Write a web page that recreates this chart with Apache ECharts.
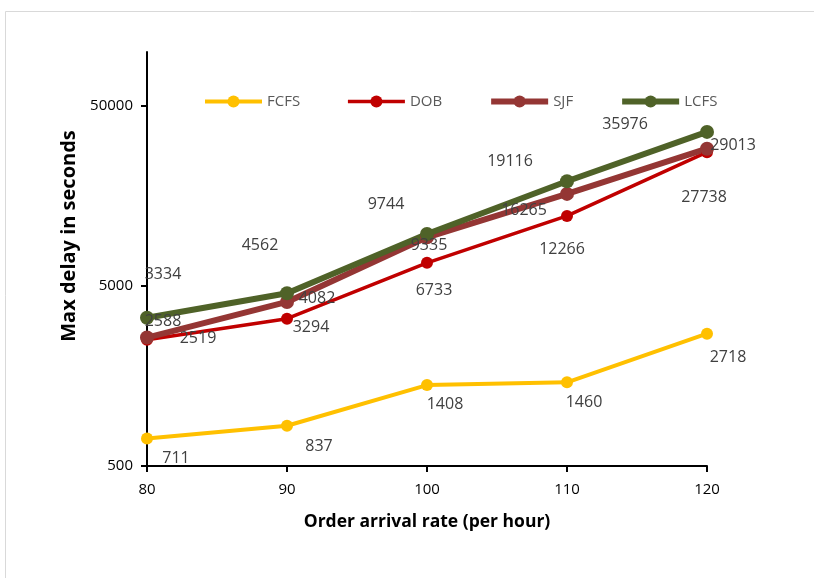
<!DOCTYPE html>
<html>
<head>
<meta charset="utf-8">
<script src="https://cdn.jsdelivr.net/npm/echarts@6/dist/echarts.min.js"></script>
<style>html,body{margin:0;padding:0;background:#fff;}#c{width:814px;height:578px;}</style>
</head>
<body>
<div id="c"></div>
<script>
const rates = [80, 90, 100, 110, 120];
const fcfs = [711, 837, 1408, 1460, 2718];
const dob = [2519, 3294, 6733, 12266, 27738];
const sjf = [2588, 4082, 9335, 16265, 29013];
const lcfs = [3334, 4562, 9744, 19116, 35976];
const seriesNames = ['FCFS', 'DOB', 'SJF', 'LCFS'];
const yTicks = [500, 5000, 50000];

// label placement (style), kept apart from data
const labelOffsets = {
  FCFS: [[29,20],[32,21],[18,19],[17,20],[21,24]],
  DOB:  [[51,-1],[24,9],[7,28],[-5,33],[-3,45]],
  SJF:  [[16,-16],[30,-3],[2,8],[-43,17],[26,-3]],
  LCFS: [[16,-43],[-27,-48],[-41,-30],[-57,-20],[-82,-7]]
};
const styles = {
  FCFS: {color:'#FFC000', width:4, size:12},
  DOB:  {color:'#C00000', width:3.5, size:12},
  SJF:  {color:'#943634', width:6, size:14},
  LCFS: {color:'#4F6228', width:6, size:14}
};
const values = {FCFS: fcfs, DOB: dob, SJF: sjf, LCFS: lcfs};
const FONT = 'Open Sans';

function mkSeries(name) {
  const st = styles[name];
  return {
    name: name,
    type: 'line',
    data: rates.map((r, i) => ({
      value: [r, values[name][i]],
      label: {offset: labelOffsets[name][i]}
    })),
    symbol: 'circle',
    symbolSize: st.size,
    lineStyle: {color: st.color, width: st.width},
    itemStyle: {color: st.color},
    label: {
      show: true, position: 'inside',
      formatter: p => String(p.value[1]),
      color: '#404040', fontSize: 16, fontFamily: FONT
    },
    emphasis: {disabled: true},
    animation: false
  };
}

const chart = echarts.init(document.getElementById('c'), null, {renderer: 'canvas'});
chart.setOption({
  backgroundColor: '#fff',
  animation: false,
  graphic: [{
    type: 'rect', shape: {x: 5.5, y: 11.5, width: 900, height: 700},
    style: {fill: 'none', stroke: '#d9d9d9', lineWidth: 1}, silent: true
  }],
  legend: {
    data: seriesNames.map(n => ({name: n, lineStyle: {width: styles[n].width}})),
    left: 198, top: 89,
    itemWidth: 57, itemHeight: 15, itemGap: 46,
    textStyle: {color: '#595959', fontSize: 15, fontFamily: FONT},
    selectedMode: false
  },
  grid: {left: 147, right: 107, top: 52, bottom: 112, containLabel: false, outerBoundsMode: 'none'},
  xAxis: {
    type: 'value', min: 80, max: 120, interval: 10,
    name: 'Order arrival rate (per hour)', nameLocation: 'middle', nameGap: 47,
    nameTextStyle: {color: '#000', fontSize: 17.5, fontWeight: 'bold', fontFamily: FONT},
    axisLine: {lineStyle: {color: '#000', width: 2}},
    axisTick: {show: true, inside: false, length: 6, lineStyle: {color: '#000', width: 2}},
    axisLabel: {color: '#000', fontSize: 15, fontFamily: FONT, margin: 16},
    splitLine: {show: false}
  },
  yAxis: {
    type: 'log', logBase: 10, min: yTicks[0], max: 100000, interval: 1,
    name: 'Max delay in seconds', nameLocation: 'middle', nameGap: 68,
    nameTextStyle: {color: '#000', fontSize: 20, fontWeight: 'bold', fontFamily: FONT, padding: [0,0,0,46]},
    axisLine: {show: true, lineStyle: {color: '#000', width: 2}},
    axisTick: {show: true, inside: false, length: 6, lineStyle: {color: '#000', width: 2}},
    axisLabel: {
      color: '#000', fontSize: 15, fontFamily: FONT, margin: 14, showMaxLabel: false,
      formatter: v => String(Number(Number(v).toPrecision(1)))
    },
    splitLine: {show: false}
  },
  series: seriesNames.map(mkSeries)
});
</script>
</body>
</html>
